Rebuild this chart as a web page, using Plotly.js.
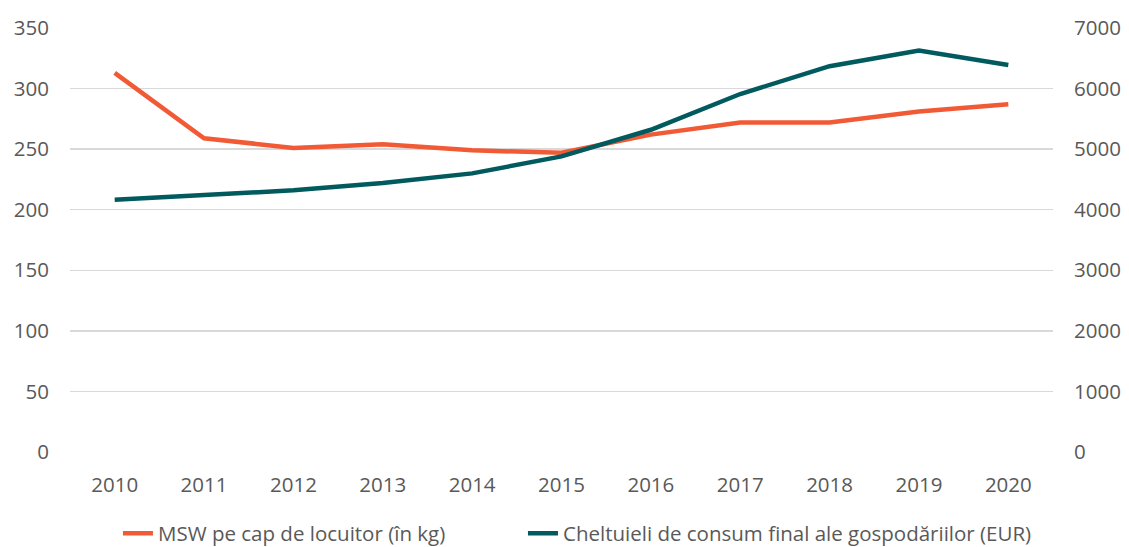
<!DOCTYPE html>
<html>
<head>
<meta charset="utf-8">
<script src="https://cdn.plot.ly/plotly-3.0.1.min.js"></script>
<style>html,body{margin:0;padding:0;background:#fff;}#chart{width:1129px;height:547px;}</style>
</head>
<body>
<div id="chart"></div>
<script>
const years = ['2010','2011','2012','2013','2014','2015','2016','2017','2018','2019','2020'];
const mswPerCapita = [313, 259, 251, 254, 249, 247, 262, 272, 272, 281, 287];
const householdSpending = [4165, 4250, 4320, 4440, 4600, 4880, 5320, 5910, 6370, 6630, 6390];
const seriesNames = ['MSW pe cap de locuitor (în kg)', 'Cheltuieli de consum final ale gospodăriilor (EUR)'];

const font = {family: 'Open Sans, Liberation Sans, sans-serif', size: 20.5, color: '#595959'};

Plotly.newPlot('chart', [
  {x: years, y: mswPerCapita, name: seriesNames[0], type: 'scatter', mode: 'lines',
   line: {color: '#F15A35', width: 4.5}, yaxis: 'y', legend: 'legend'},
  {x: years, y: householdSpending, name: seriesNames[1], type: 'scatter', mode: 'lines',
   line: {color: '#005A5E', width: 4.5}, yaxis: 'y2', legend: 'legend2'}
], {
  width: 1129, height: 547,
  margin: {l: 70, r: 76, t: 28, b: 95, autoexpand: false},
  paper_bgcolor: '#fff', plot_bgcolor: '#fff',
  font: font,
  showlegend: true,
  legend: {orientation: 'h', x: 0.0488, xanchor: 'left', y: -0.192, yanchor: 'middle', font: font},
  legend2: {orientation: 'h', x: 0.4608, xanchor: 'left', y: -0.192, yanchor: 'middle', font: font},
  xaxis: {type: 'category', showgrid: false, zeroline: false, showline: false,
          ticks: 'outside', ticklen: 14, tickcolor: 'rgba(0,0,0,0)', tickfont: font,
          range: [-0.5, 10.5]},
  yaxis: {range: [0, 350], dtick: 50, showgrid: true, gridcolor: '#d9d9d9', gridwidth: 1.5,
          zeroline: false, showline: false, ticks: 'outside', ticklen: 16,
          tickcolor: 'rgba(0,0,0,0)', tickfont: font},
  yaxis2: {range: [0, 7000], dtick: 1000, overlaying: 'y', side: 'right', showgrid: false,
           zeroline: false, showline: false, ticks: 'outside', ticklen: 16,
           tickcolor: 'rgba(0,0,0,0)', tickfont: font}
}, {displayModeBar: false, staticPlot: true});
</script>
</body>
</html>
